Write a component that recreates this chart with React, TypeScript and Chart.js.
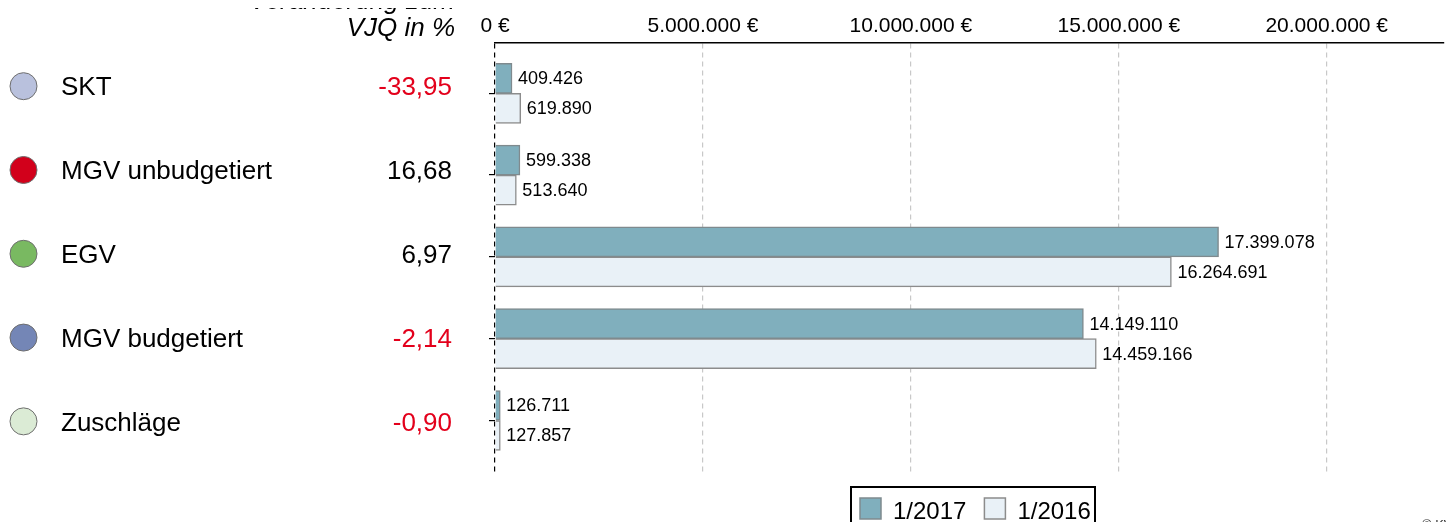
import React, { useEffect, useRef } from "react";
import { Chart, registerables } from "chart.js";

Chart.register(...registerables);

const categories = ["SKT", "MGV unbudgetiert", "EGV", "MGV budgetiert", "Zuschläge"];
const values2017 = [409426, 599338, 17399078, 14149110, 126711];
const values2016 = [619890, 513640, 16264691, 14459166, 127857];
const changePct = [-33.95, 16.68, 6.97, -2.14, -0.9];
const dotColors = ["#b9c1dd", "#d2001b", "#79b961", "#7486b6", "#dbebd5"];
const seriesLabels = ["1/2017", "1/2016"];
const seriesFill = ["#80afbd", "#e9f1f7"];
const seriesBorder = ["#7f8a8e", "#8c8c8c"];
const xTickValues = [0, 5000000, 10000000, 15000000, 20000000];
const headerLines = ["Veränderung zum", "VJQ in %"];

const FONT = "'Liberation Sans', Arial, sans-serif";

const fmtThousands = (v: number) => String(Math.round(v)).replace(/\B(?=(\d{3})+(?!\d))/g, ".");
const fmtPct = (v: number) => v.toFixed(2).replace(".", ",");

const overlayPlugin = {
  id: "overlay",
  afterDraw(chart: any) {
    const ctx = chart.ctx as CanvasRenderingContext2D;
    const y = chart.scales.y;
    ctx.save();
    // data labels
    ctx.font = `18px ${FONT}`;
    ctx.fillStyle = "#000";
    ctx.textAlign = "left";
    ctx.textBaseline = "middle";
    chart.data.datasets.forEach((ds: any, di: number) => {
      const meta = chart.getDatasetMeta(di);
      meta.data.forEach((el: any, i: number) => {
        ctx.fillText(fmtThousands(ds.data[i].x), el.x + 6, el.y + 1);
      });
    });

    // header
    ctx.font = `italic 26px ${FONT}`;
    ctx.textAlign = "right";
    ctx.textBaseline = "alphabetic";
    ctx.fillStyle = "#000";
    ctx.fillText(headerLines[0], 455, 9);
    ctx.fillText(headerLines[1], 455, 36);

    // left column
    categories.forEach((cat, i) => {
      const cy = y.getPixelForValue(i * 1.0245 - 0.087);
      ctx.beginPath();
      ctx.arc(23.5, cy, 13.5, 0, Math.PI * 2);
      ctx.fillStyle = dotColors[i];
      ctx.fill();
      ctx.lineWidth = 1;
      ctx.strokeStyle = "#6e6e6e";
      ctx.stroke();
      ctx.font = `26px ${FONT}`;
      ctx.fillStyle = "#000";
      ctx.textAlign = "left";
      ctx.fillText(cat, 61, cy + 9.3);
      ctx.textAlign = "right";
      ctx.fillStyle = changePct[i] < 0 ? "#e3001b" : "#000";
      ctx.fillText(fmtPct(changePct[i]), 452, cy + 9.3);
    });

    // legend
    const lx = 851, ly = 487;
    ctx.lineWidth = 2;
    ctx.strokeStyle = "#000";
    ctx.strokeRect(lx, ly, 244, 60);
    ctx.font = `24px ${FONT}`;
    ctx.textAlign = "left";
    let x = 860;
    seriesLabels.forEach((lab, i) => {
      ctx.fillStyle = seriesFill[i];
      ctx.fillRect(x, 498, 21, 21);
      ctx.lineWidth = 1.5;
      ctx.strokeStyle = seriesBorder[i];
      ctx.strokeRect(x, 498, 21, 21);
      ctx.fillStyle = "#000";
      ctx.fillText(lab, x + 33, 519);
      x += 33 + ctx.measureText(lab).width + 18;
    });

    // copyright
    ctx.font = `13px ${FONT}`;
    ctx.fillStyle = "#333";
    ctx.fillText("© KVB", 1422, 529);
    ctx.restore();
  },
};

export default function App() {
  const canvasRef = useRef<HTMLCanvasElement | null>(null);

  useEffect(() => {
    if (!canvasRef.current) return;
    const chart = new Chart(canvasRef.current, {
      type: "bar",
      data: {
        datasets: [
          {
            label: seriesLabels[0],
            data: values2017.map((v, i) => ({ x: v, y: i })),
            backgroundColor: seriesFill[0],
            borderColor: seriesBorder[0],
            borderWidth: 1.5,
            barThickness: 30,
          },
          {
            label: seriesLabels[1],
            data: values2016.map((v, i) => ({ x: v, y: i })),
            backgroundColor: seriesFill[1],
            borderColor: seriesBorder[1],
            borderWidth: 1.5,
            barThickness: 30,
          },
        ] as any,
      },
      options: {
        indexAxis: "y",
        animation: false,
        responsive: true,
        maintainAspectRatio: false,
        layout: { padding: { left: 0, top: 0, right: 10, bottom: 58 } },
        plugins: { legend: { display: false }, tooltip: { enabled: false } },
        scales: {
          x: {
            type: "linear",
            position: "top",
            min: 0,
            max: 22820000,
            afterFit: (s: any) => {
              s.height = 43;
            },
            afterBuildTicks: (s: any) => {
              s.ticks = xTickValues.map((v) => ({ value: v }));
            },
            ticks: {
              padding: 4,
              color: "#000",
              font: { family: FONT, size: 21 },
              callback: (v: any) => `${fmtThousands(Number(v))} €`,
              maxRotation: 0,
            },
            grid: {
              drawTicks: false,
              color: (c: any) => (c.tick && c.tick.value === 0 ? "#000" : "#c8c8c8"),
              lineWidth: 1.2,
            },
            border: { display: true, color: "#000", width: 1.5, dash: [5, 4] },
          } as any,
          y: {
            type: "linear",
            reverse: true,
            offset: false,
            min: -0.615,
            max: 4.63,
            afterFit: (s: any) => {
              s.width = 495;
            },
            afterBuildTicks: (s: any) => {
              s.ticks = categories.map((_, i) => ({ value: i }));
            },
            ticks: { display: false },
            grid: {
              offset: false,
              drawOnChartArea: false,
              drawTicks: true,
              tickLength: 6,
              color: "#000",
              lineWidth: 1.2,
            },
            border: { display: false },
          } as any,
        },
      } as any,
      plugins: [overlayPlugin],
    });
    return () => chart.destroy();
  }, []);

  return (
    <div style={{ margin: "-8px", width: 1454, height: 530, overflow: "hidden", position: "relative", background: "#fff" }}>
      <canvas ref={canvasRef} />
    </div>
  );
}
